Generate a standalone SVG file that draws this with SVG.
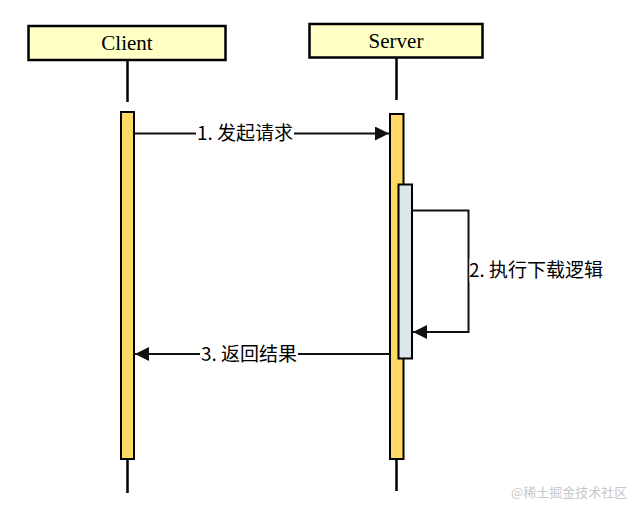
<svg xmlns="http://www.w3.org/2000/svg" width="635" height="507" viewBox="0 0 635 507">
<style>
.actor{fill:#ffffc6;stroke:#000;stroke-width:2.5}
.aname{font-family:"Liberation Serif",serif;font-size:21px;text-anchor:middle;fill:#000}
.life{stroke:#000;stroke-width:2.5;fill:none}
.act{fill:#ffd966;stroke:#000;stroke-width:2}
.act2{fill:#dae8ec;stroke:#000;stroke-width:2}
.msg{stroke:#111;stroke-width:2;fill:none}
.lbl{font-family:"Noto Sans CJK SC","Noto Sans",sans-serif;font-size:19px;fill:#000}
.wm{font-family:"Noto Sans CJK SC","Noto Sans",sans-serif;font-size:13px;fill:#c8c8c8}
</style>
<defs>
<marker id="ah" viewBox="0 0 10 10" refX="10" refY="5" markerWidth="14" markerHeight="14" markerUnits="userSpaceOnUse" orient="auto">
<path d="M0,0 L10,5 L0,10 Z" fill="#111"/>
</marker>
</defs>
<rect width="635" height="507" fill="#fff"/>
<g id="client">
<line class="life" x1="127.5" y1="60" x2="127.5" y2="102"/>
<line class="life" x1="127.5" y1="459" x2="127.5" y2="493"/>
<rect class="actor" x="28.5" y="26" width="197" height="34"/>
<text class="aname" x="127" y="50">Client</text>
<rect class="act" x="121" y="112" width="13" height="347"/>
</g>
<g id="server">
<line class="life" x1="396.5" y1="58" x2="396.5" y2="100"/>
<line class="life" x1="396.5" y1="459" x2="396.5" y2="491"/>
<rect class="actor" x="309.5" y="24" width="173" height="33.5"/>
<text class="aname" x="396" y="48">Server</text>
<rect class="act" x="390" y="114" width="13.5" height="345"/>
</g>
<g id="server-exec">
<rect class="act2" x="398.5" y="184.5" width="13.5" height="174"/>
</g>
<g id="connectors">
<line class="msg" x1="134" y1="133.5" x2="389" y2="133.5" marker-end="url(#ah)"/>
<path class="msg" d="M412,210.5 H468.5 V332 H413" marker-end="url(#ah)"/>
<line class="msg" x1="390" y1="354" x2="135" y2="354" marker-end="url(#ah)"/>
</g>
<g id="labels">
<rect x="196" y="122" width="98" height="23" fill="#fff"/>
<text class="lbl" x="245" y="140" text-anchor="middle">1. 发起请求</text>
<rect x="469.5" y="259" width="138" height="23" fill="#fff"/>
<text class="lbl" x="469" y="277">2. 执行下载逻辑</text>
<rect x="200" y="343" width="98" height="23" fill="#fff"/>
<text class="lbl" x="249" y="361" text-anchor="middle">3. 返回结果</text>
</g>
<text class="wm" x="511" y="497">@稀土掘金技术社区</text>
</svg>
